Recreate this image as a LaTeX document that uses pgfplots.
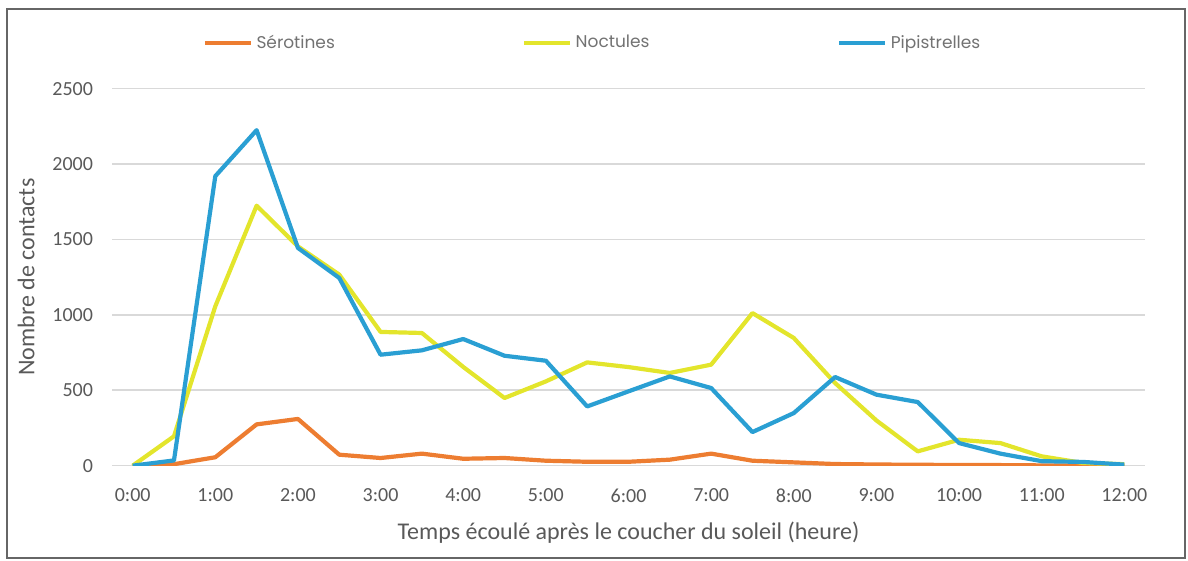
\documentclass[border=0pt]{standalone}
\usepackage{pgfplots}
\pgfplotsset{compat=1.18}
\usepackage{fontspec}
\setmainfont{Carlito}
\newfontfamily\legfont{Poppins}
\definecolor{serot}{HTML}{ED7D31}
\definecolor{noct}{HTML}{E3E52C}
\definecolor{pipi}{HTML}{2A9FD3}
\definecolor{txt}{HTML}{595959}
\definecolor{gridc}{HTML}{D9D9D9}
\begin{document}
\begin{tikzpicture}
\path (0,0) rectangle (594pt,280.5pt);
\draw[color=black!60, line width=0.8pt] (3.5pt,1.5pt) rectangle (592.5pt,276pt);
\begin{axis}[
  at={(56pt,47.65pt)}, anchor=south west,
  scale only axis, width=516.5pt, height=188.5pt,
  xmin=-0.5, xmax=24.5, ymin=0, ymax=2500,
  axis line style={draw=none},
  tick style={draw=none},
  ytick={0,500,...,2500},
  xtick={0,2,...,24},
  xticklabels={0:00,1:00,2:00,3:00,4:00,5:00,6:00,7:00,8:00,9:00,10:00,11:00,12:00},
  xmajorgrids=false,
  ymajorgrids=true,
  major grid style={draw=gridc, line width=0.8pt},
  /pgf/number format/assume math mode=true,
  /pgf/number format/1000 sep={},
  tick label style={font=\fontsize{10}{12}\selectfont, text=txt},
  yticklabel style={xshift=-6pt},
  xticklabel style={yshift=-8pt},
  xlabel={Temps écoulé après le coucher du soleil (heure)},
  ylabel={Nombre de contacts},
  label style={font=\fontsize{12}{14}\selectfont, text=txt},
  xlabel style={yshift=-3pt},
  ylabel style={yshift=2pt},
  legend columns=3,
  legend style={draw=none, fill=none, inner sep=0pt, at={(0.088,1.121)}, anchor=west,
    font=\legfont\fontsize{8.5}{10}\selectfont, text=txt!85,
    /tikz/every even column/.append style={column sep=0pt},
    /tikz/every odd column/.append style={column sep=0pt}},
  legend image code/.code={\draw[#1, line width=1.6pt] (0pt,0pt) -- (23pt,0pt);},
  every axis plot/.append style={line width=2.1pt, line join=round, mark=none},
]
\addplot[serot] coordinates {(0,0)(1,10)(2,56)(3,274)(4,310)(5,73)(6,51)(7,80)(8,46)(9,51)(10,33)(11,26)(12,26)(13,40)(14,80)(15,33)(16,22)(17,11)(18,8)(19,6)(20,5)(21,4)(22,2)(23,1)(24,0)};
\addplot[noct] coordinates {(0,0)(1,195)(2,1057)(3,1724)(4,1454)(5,1267)(6,887)(7,880)(8,655)(9,449)(10,559)(11,685)(12,654)(13,615)(14,670)(15,1012)(16,847)(17,548)(18,300)(19,95)(20,172)(21,150)(22,62)(23,18)(24,10)};
\addplot[pipi] coordinates {(0,0)(1,35)(2,1920)(3,2225)(4,1444)(5,1245)(6,736)(7,765)(8,840)(9,729)(10,696)(11,393)(12,493)(13,592)(14,515)(15,223)(16,349)(17,588)(18,471)(19,422)(20,150)(21,80)(22,30)(23,25)(24,7)};
\legend{\makebox[131pt][l]{Sérotines},\makebox[129pt][l]{Noctules},Pipistrelles}
\end{axis}
\end{tikzpicture}
\end{document}
